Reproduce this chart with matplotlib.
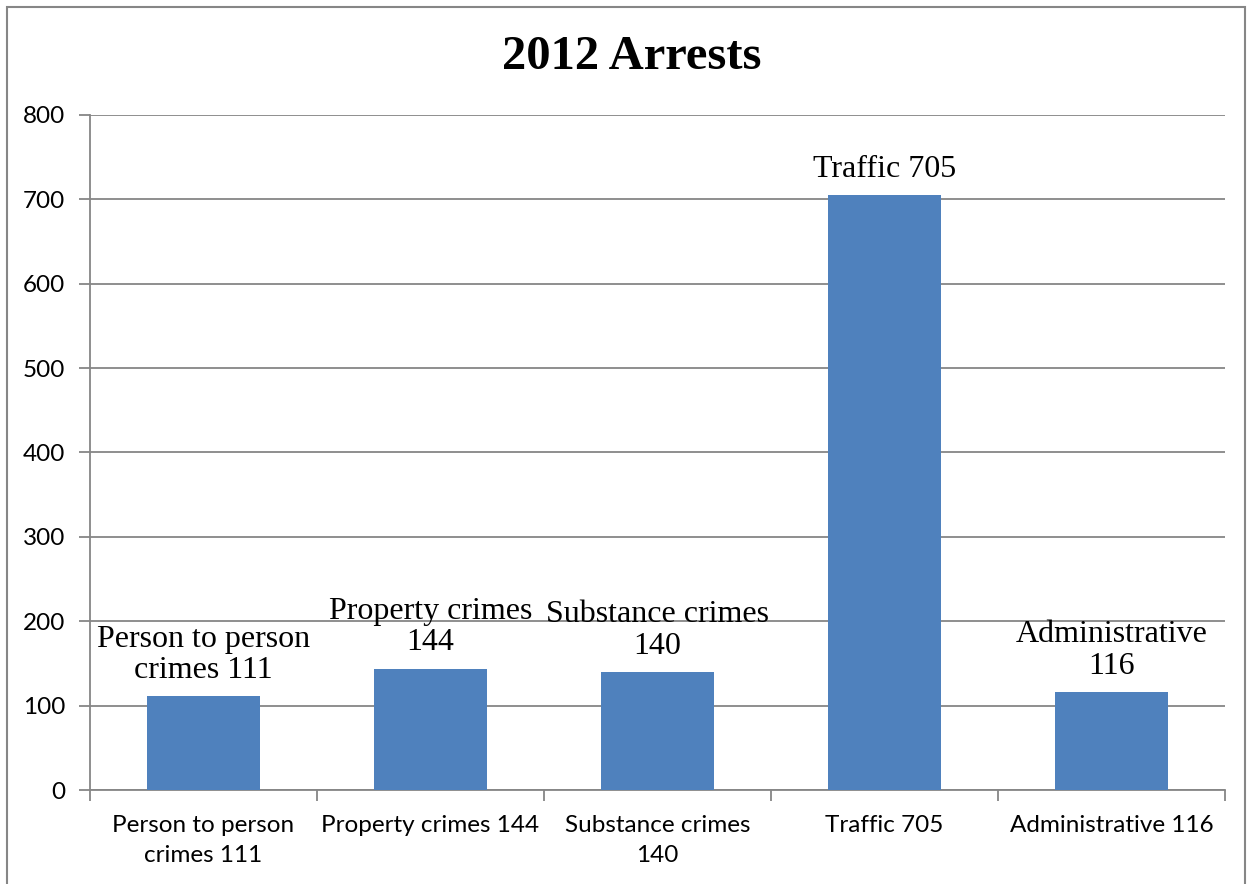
import matplotlib.pyplot as plt
import matplotlib.patches as mpatches

categories = ['Person to person\ncrimes 111', 'Property crimes 144', 'Substance crimes\n140',
              'Traffic 705', 'Administrative 116']
bar_labels = ['Person to person\ncrimes 111', 'Property crimes\n144', 'Substance crimes\n140',
              'Traffic 705', 'Administrative\n116']
arrests = [111, 144, 140, 705, 116]

grid_col = '#868686'
bar_col = '#4F81BD'

fig = plt.figure(figsize=(12.53, 8.84), dpi=100)
ax = fig.add_axes([0.0718, 0.1063, 0.9059, 0.7637])

x = range(len(categories))
ax.bar(x, arrests, width=0.5, color=bar_col, zorder=3)

for i, v in enumerate(arrests):
    ax.annotate(bar_labels[i], (i, v), xytext=(0, 8), textcoords='offset points',
                ha='center', va='bottom', family='Liberation Serif', fontsize=23,
                linespacing=1.12, zorder=4)

ax.set_xlim(-0.5, 4.5)
ax.set_ylim(0, 800)
ax.set_yticks(range(0, 801, 100))
ax.yaxis.grid(True, color=grid_col, linewidth=1.3, zorder=0)
ax.set_axisbelow(True)

ax.set_xticks([i - 0.5 for i in range(6)])
ax.set_xticklabels([])
ax.set_xticks(list(x), minor=True)
ax.set_xticklabels(categories, minor=True, family='Lato', fontsize=17.5, linespacing=1.5)
ax.tick_params(axis='x', which='major', length=8, width=1.3, color=grid_col, direction='out')
ax.tick_params(axis='x', which='minor', length=0, pad=18)
ax.tick_params(axis='y', length=8, width=1.3, color=grid_col, labelsize=17.5, pad=10)
for lab in ax.get_yticklabels():
    lab.set_family('Lato')

for s in ['top', 'right']:
    ax.spines[s].set_visible(False)
for s in ['left', 'bottom']:
    ax.spines[s].set_color(grid_col)
    ax.spines[s].set_linewidth(1.3)

fig.text(0.504, 0.935, '2012 Arrests', ha='center', va='center',
         family='Liberation Serif', fontweight='bold', fontsize=35)

border = mpatches.Rectangle((7 / 1253, -0.05), (1245 - 7) / 1253, (884 - 7) / 884 + 0.05,
                            transform=fig.transFigure, fill=False, edgecolor=grid_col,
                            linewidth=1.5)
fig.patches.append(border)

fig.savefig('out.png', dpi=100)
